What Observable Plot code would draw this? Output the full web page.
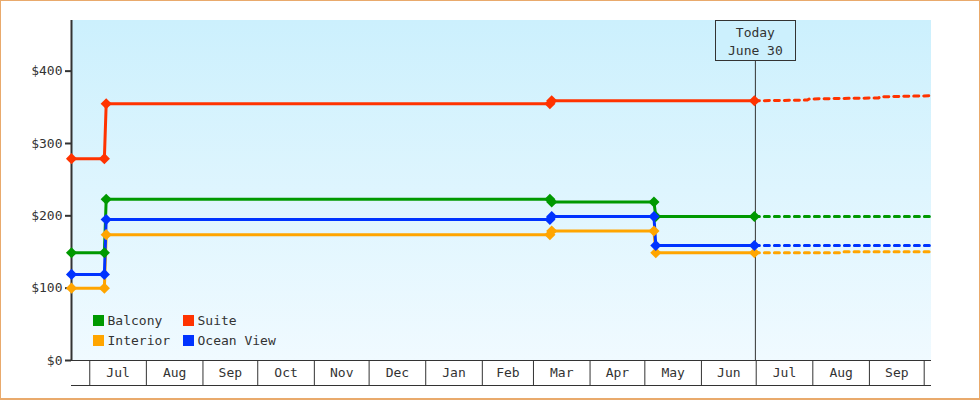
<!DOCTYPE html>
<html><head><meta charset="utf-8">
<script src="https://cdn.jsdelivr.net/npm/d3@7"></script>
<script src="https://cdn.jsdelivr.net/npm/@observablehq/plot@0.6"></script>
<style>
body{margin:0;background:#fff;}
#wrap{position:relative;width:980px;height:400px;overflow:hidden;}
#border{position:absolute;left:0;top:0;width:980px;height:400px;box-sizing:border-box;border:1px solid #e9aa6c;border-bottom-width:2px;pointer-events:none;}
</style></head><body><div id="wrap"><div id="border"></div></div>
<script>
// ---- data ----
const seriesNames = ["Balcony", "Suite", "Interior", "Ocean View"];
const seriesColors = ["#009900", "#ff3300", "#ffa500", "#0033ff"];

const balconyDates = ["2022-06-21","2022-07-09","2022-07-10","2023-03-10","2023-03-11","2023-05-06","2023-05-07","2023-06-30"];
const balconyValues = [149, 149, 223, 223, 219, 219, 199, 199];
const suiteDates = ["2022-06-21","2022-07-09","2022-07-10","2023-03-10","2023-03-11","2023-06-30"];
const suiteValues = [279, 279, 355, 355, 359, 359];
const interiorDates = ["2022-06-21","2022-07-09","2022-07-10","2023-03-10","2023-03-11","2023-05-06","2023-05-07","2023-06-30"];
const interiorValues = [100, 100, 174, 174, 179, 179, 149, 149];
const oceanDates = ["2022-06-21","2022-07-09","2022-07-10","2023-03-10","2023-03-11","2023-05-06","2023-05-07","2023-06-30"];
const oceanValues = [119, 119, 195, 195, 199, 199, 159, 159];

// forecast (dashed, after today)
const balconyForecastDates = ["2023-06-30","2023-10-05"];
const balconyForecast = [199, 199];
const suiteForecastDates = ["2023-06-30","2023-07-29","2023-07-30","2023-09-06","2023-09-07","2023-10-05"];
const suiteForecast = [359, 360, 361.5, 363, 364.5, 366];
const interiorForecastDates = ["2023-06-30","2023-08-16","2023-08-17","2023-10-05"];
const interiorForecast = [149, 149, 150.5, 150.5];
const oceanForecastDates = ["2023-06-30","2023-10-05"];
const oceanForecast = [159, 159];

const todayDate = "2023-06-30";
const todayLabel = ["Today", "June 30"];
const xStart = "2022-06-21";
const xEnd = "2023-10-05";
const yMax = 470;
const yTicks = [0, 100, 200, 300, 400];
const monthStarts = ["2022-07-01","2022-08-01","2022-09-01","2022-10-01","2022-11-01","2022-12-01","2023-01-01","2023-02-01","2023-03-01","2023-04-01","2023-05-01","2023-06-01","2023-07-01","2023-08-01","2023-09-01","2023-10-01"];
const monthLabels = ["Jul","Aug","Sep","Oct","Nov","Dec","Jan","Feb","Mar","Apr","May","Jun","Jul","Aug","Sep"];

// ---- build tables ----
const parse = d3.utcParse("%Y-%m-%d");
function rows(name, dates, values) { return dates.map((d, i) => ({series: name, date: parse(d), value: values[i]})); }
const history = [
  ...rows("Balcony", balconyDates, balconyValues),
  ...rows("Suite", suiteDates, suiteValues),
  ...rows("Interior", interiorDates, interiorValues),
  ...rows("Ocean View", oceanDates, oceanValues)
];
const forecast = [
  ...rows("Balcony", balconyForecastDates, balconyForecast),
  ...rows("Suite", suiteForecastDates, suiteForecast),
  ...rows("Interior", interiorForecastDates, interiorForecast),
  ...rows("Ocean View", oceanForecastDates, oceanForecast)
];
const months = monthLabels.map((label, i) => ({label, start: parse(monthStarts[i]), end: parse(monthStarts[i + 1])}));
const xMin = parse(xStart), xMaxDate = parse(xEnd), today = parse(todayDate);
const bandBottom = -25 * yMax / 340; // axis band height below the frame, in value units

const ink = "#333";
const chart = Plot.plot({
  width: 980, height: 400,
  marginTop: 20, marginBottom: 15, marginLeft: 71, marginRight: 49,
  style: {fontFamily: "DejaVu Sans Mono", fontSize: "13px", color: ink, background: "transparent"},
  x: {type: "utc", domain: [xMin, xMaxDate], axis: null},
  y: {domain: [bandBottom, yMax], axis: null},
  color: {domain: seriesNames, range: seriesColors},
  marks: [
    Plot.rect([0], {x1: () => xMin, x2: () => xMaxDate, y1: () => 0, y2: () => yMax, fill: "url(#bgGrad)"}),
    // x axis band
    Plot.ruleY([0, bandBottom], {stroke: ink, strokeWidth: 1}),
    Plot.ruleX(monthStarts.map(parse), {y1: () => bandBottom, y2: () => 0, stroke: ink}),
    Plot.text(months, {x: d => new Date((+d.start + +d.end) / 2), y: () => bandBottom / 2, text: "label", fill: ink, fontSize: 13}),
    // y axis
    Plot.ruleX([xMin], {y1: () => 0, y2: () => yMax, stroke: ink, strokeWidth: 2}),
    Plot.axisY({ticks: yTicks, tickFormat: d => "$" + d, tickSize: 6, tickPadding: 3, strokeWidth: 2, stroke: ink, fill: ink, fontSize: 13, label: null}),
    // today line
    Plot.ruleX([today], {y1: () => 0, y2: () => yMax, stroke: ink, strokeWidth: 1, dx: 1}),
    // series
    Plot.line(forecast, {x: "date", y: "value", z: "series", stroke: "series", strokeWidth: 3, strokeDasharray: "5,5", curve: "linear"}),
    Plot.line(history, {x: "date", y: "value", z: "series", stroke: "series", strokeWidth: 3, curve: "linear"}),
    Plot.dot(history, {x: "date", y: "value", fill: "series", symbol: "diamond2", r: 5})
  ]
});
document.getElementById("wrap").prepend(chart);

// gradient + annotations
const svg = d3.select(chart);
const defs = svg.insert("defs", ":first-child");
const grad = defs.append("linearGradient").attr("id", "bgGrad").attr("x1", 0).attr("y1", 0).attr("x2", 0).attr("y2", 1);
grad.append("stop").attr("offset", "0%").attr("stop-color", "#ccf0fd");
grad.append("stop").attr("offset", "100%").attr("stop-color", "#f0faff");

const xs = chart.scale("x"), ys = chart.scale("y");
const tx = xs.apply(today) + 1, frameTop = ys.apply(yMax), base = ys.apply(0), frameLeft = xs.apply(xMin);
const box = svg.append("g").attr("font-family", "DejaVu Sans Mono").attr("font-size", 13).attr("fill", ink).attr("text-anchor", "middle");
box.append("rect").attr("x", Math.round(tx) - 40 + 0.5).attr("y", frameTop + 0.5).attr("width", 80).attr("height", 40)
  .attr("fill", "#ccf0fd").attr("stroke", ink);
todayLabel.forEach((t, i) => box.append("text").attr("x", tx + 0.5).attr("y", frameTop + 17 + i * 18).text(t));

const legend = svg.append("g").attr("font-family", "DejaVu Sans Mono").attr("font-size", 13).attr("text-anchor", "start");
seriesNames.forEach((name, i) => {
  const col = i % 2, row = Math.floor(i / 2);
  const lx = frameLeft + 22 + col * 90, ly = base - 45 + row * 20;
  legend.append("rect").attr("x", lx).attr("y", ly).attr("width", 11).attr("height", 11).attr("fill", seriesColors[i]);
  legend.append("text").attr("x", lx + 14.5).attr("y", ly + 10).attr("fill", ink).text(name);
});
</script></body></html>
